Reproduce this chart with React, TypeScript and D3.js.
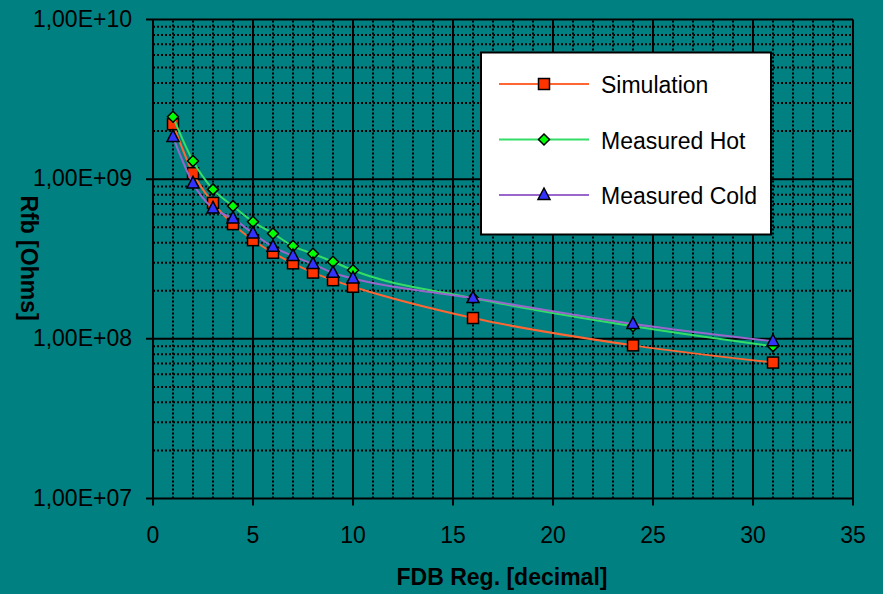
import * as d3 from 'd3';

// FDB register settings (x axis)
const fdb = [1, 2, 3, 4, 5, 6, 7, 8, 9, 10, 16, 24, 31];

// Rfb values in Ohms
const simulation = [2.21e9, 1.09e9, 7.1e8, 5.23e8, 4.15e8, 3.46e8, 2.97e8, 2.6e8, 2.33e8, 2.12e8, 1.35e8, 9.1e7, 7.1e7];
const measuredHot = [2.46e9, 1.3e9, 8.63e8, 6.78e8, 5.41e8, 4.57e8, 3.81e8, 3.41e8, 3.04e8, 2.69e8, 1.8e8, 1.2e8, 9.0e7];
const measuredCold = [1.84e9, 9.4e8, 6.56e8, 5.68e8, 4.57e8, 3.77e8, 3.3e8, 2.94e8, 2.59e8, 2.39e8, 1.8e8, 1.24e8, 9.66e7];

const seriesNames = ['Simulation', 'Measured Hot', 'Measured Cold'];
const xTicks = [0, 5, 10, 15, 20, 25, 30, 35];
const yTicks = [1e7, 1e8, 1e9, 1e10];

const W = 883;
const H = 594;
const BG = '#008080';
const FONT = '"Liberation Sans", Arial, sans-serif';

const lineColors = ['#ff6633', '#33dd66', '#9966cc'];
const markerColors = ['#ff3300', '#00ff00', '#3333ff'];

function fmtSci(v: number) {
  const e = Math.round(Math.log10(v));
  return '1,00E+' + (e < 10 ? '0' + e : e);
}

function Marker({ kind, x, y }: { kind: number; x: number; y: number }) {
  if (kind === 0) {
    return <rect x={x - 5.5} y={y - 5.5} width={11} height={11} fill={markerColors[0]} stroke="#000" strokeWidth={1.5} />;
  }
  if (kind === 1) {
    return (
      <path
        d={`M${x},${y - 5.5}L${x + 5.5},${y}L${x},${y + 5.5}L${x - 5.5},${y}Z`}
        fill={markerColors[1]}
        stroke="#000"
        strokeWidth={1.5}
      />
    );
  }
  return (
    <path
      d={`M${x},${y - 7}L${x + 6},${y + 4.5}L${x - 6},${y + 4.5}Z`}
      fill={markerColors[2]}
      stroke="#000"
      strokeWidth={1.5}
    />
  );
}

export default function App() {
  const x = d3.scaleLinear().domain([0, 35]).range([153, 853]);
  const y = d3.scaleLog().domain([1e7, 1e10]).range([498.5, 19.5]);

  const allSeries = [simulation, measuredHot, measuredCold];

  // minor grid values
  const minorY: number[] = [];
  for (let k = 7; k < 10; k++) {
    for (let m = 2; m <= 9; m++) minorY.push(m * Math.pow(10, k));
  }
  const minorX = d3.range(1, 35).filter((v) => v % 5 !== 0);

  const line = d3
    .line<number>()
    .x((_, i) => x(fdb[i]))
    .y((d) => y(d))
    .curve(d3.curveMonotoneX);

  const [x0, x1] = x.range();
  const [yb, yt] = y.range();

  return (
    <svg width={W} height={H} style={{ position: 'absolute', left: 0, top: 0 }} fontFamily={FONT}>
      <rect width={W} height={H} fill={BG} />

      {/* minor grid */}
      <g stroke="#000" strokeWidth={2} strokeDasharray="2,2" fill="none">
        {minorY.map((v) => (
          <line key={'my' + v} x1={x0} x2={x1} y1={y(v)} y2={y(v)} />
        ))}
        {minorX.map((v) => (
          <line key={'mx' + v} x1={x(v)} x2={x(v)} y1={yb} y2={yt} />
        ))}
      </g>

      {/* major grid */}
      <g stroke="#000" strokeWidth={2}>
        {yTicks.slice(1).map((v) => (
          <line key={'gy' + v} x1={x0 - 7} x2={x1} y1={y(v)} y2={y(v)} />
        ))}
        {xTicks.slice(1).map((v) => (
          <line key={'gx' + v} x1={x(v)} x2={x(v)} y1={yt} y2={yb + 7} />
        ))}
        {/* axes */}
        <line x1={x0} x2={x0} y1={yt} y2={yb + 7} />
        <line x1={x0 - 7} x2={x1} y1={yb} y2={yb} />
      </g>

      {/* tick labels */}
      <g fontSize={23} fill="#000">
        {yTicks.map((v) => (
          <text key={'ty' + v} x={132} y={y(v) + 7} textAnchor="end">
            {fmtSci(v)}
          </text>
        ))}
        {xTicks.map((v) => (
          <text key={'tx' + v} x={x(v)} y={543} textAnchor="middle">
            {v}
          </text>
        ))}
      </g>

      {/* axis titles */}
      <text x={502} y={585} textAnchor="middle" fontSize={23} fontWeight="bold">
        FDB Reg. [decimal]
      </text>
      <text
        transform={`translate(20.5,258) rotate(90)`}
        textAnchor="middle"
        fontSize={23}
        fontWeight="bold"
      >
        Rfb [Ohms]
      </text>

      {/* series */}
      {allSeries.map((s, si) => (
        <g key={'s' + si}>
          <path d={line(s) || ''} fill="none" stroke={lineColors[si]} strokeWidth={2} />
          {s.map((v, i) => (
            <Marker key={i} kind={si} x={x(fdb[i])} y={y(v)} />
          ))}
        </g>
      ))}

      {/* legend */}
      <g>
        <rect x={481} y={52.5} width={290} height={182} fill="#fff" stroke="#000" strokeWidth={2} />
        {seriesNames.map((name, i) => {
          const ly = 84 + i * 55.5;
          return (
            <g key={name}>
              <line x1={499} x2={589} y1={ly} y2={ly} stroke={lineColors[i]} strokeWidth={2} />
              <Marker kind={i} x={544} y={ly} />
              <text x={601} y={ly + 9} fontSize={23} fill="#000">
                {name}
              </text>
            </g>
          );
        })}
      </g>
    </svg>
  );
}
